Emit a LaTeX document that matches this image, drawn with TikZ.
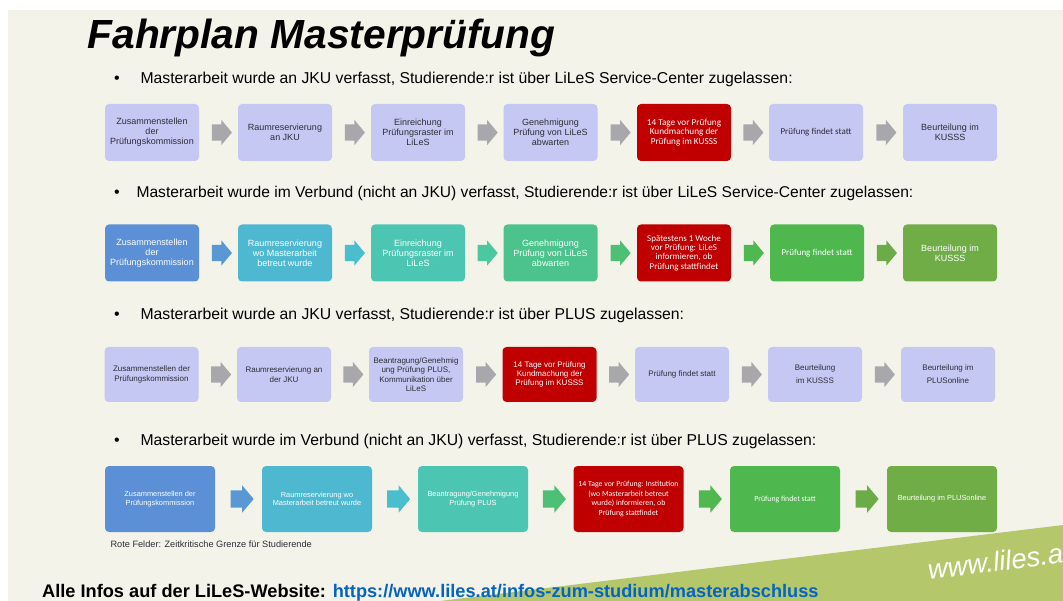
\documentclass[tikz,border=0pt]{standalone}
\usepackage{fontspec}
\setmainfont{Liberation Sans}
\newfontfamily\calibri{Carlito}
\usetikzlibrary{shapes.arrows}

\definecolor{paper}{RGB}{244,243,233}
\definecolor{wedge}{RGB}{181,199,107}
\definecolor{lav}{RGB}{197,200,242}
\definecolor{ink}{RGB}{45,45,55}
\definecolor{alert}{RGB}{192,0,0}
\definecolor{greyarrow}{RGB}{168,168,172}
\definecolor{cblue}{RGB}{91,143,214}
\definecolor{ccyan}{RGB}{77,184,208}
\definecolor{cteal}{RGB}{76,198,178}
\definecolor{cmint}{RGB}{76,194,140}
\definecolor{cgreen}{RGB}{78,184,78}
\definecolor{colive}{RGB}{112,173,71}
\definecolor{ablue}{RGB}{90,152,213}
\definecolor{acyan}{RGB}{75,190,206}
\definecolor{ateal}{RGB}{76,200,160}
\definecolor{amint}{RGB}{78,192,118}
\definecolor{agreen}{RGB}{80,184,80}
\definecolor{aolive}{RGB}{108,172,72}
\definecolor{link}{RGB}{5,99,193}

\begin{document}
\begin{tikzpicture}[x=1pt,y=-1pt,
  box/.style={rounded corners=4pt, align=center, inner sep=0pt,
    minimum width=94pt, minimum height=57pt},
  lavbox/.style={box, fill=lav, text=ink, font=\fontsize{9}{10}\selectfont},
  lavcal/.style={box, fill=lav, text=ink, font=\calibri\fontsize{9}{10}\selectfont},
  colbox/.style={box, fill=#1, text=white, font=\fontsize{9}{10}\selectfont},
  colcal/.style={box, fill=#1, text=white, font=\calibri\fontsize{9}{9.4}\selectfont},
  redbox/.style={box, fill=alert, text=white, font=\calibri\fontsize{9.2}{9.6}\selectfont},
  midbox/.style={lavbox, font=\fontsize{8}{9.3}\selectfont, minimum height=55pt},
  bigbox/.style={box, fill=#1, text=white, minimum width=110pt, minimum height=66pt,
    font=\fontsize{7.4}{8.6}\selectfont},
  bigcal/.style={bigbox=#1, font=\calibri\fontsize{7.8}{9.6}\selectfont},
  flow/.style={single arrow, draw=none, fill=#1, inner xsep=0pt, inner ysep=8pt,
    minimum height=20pt, minimum width=1pt,
    single arrow head extend=4.5pt, single arrow tip angle=100},
  bigflow/.style={flow=#1, minimum height=23pt, inner ysep=8.5pt,
    single arrow head extend=5pt},
  bullet/.style={anchor=base, font=\fontsize{16}{18}\selectfont},
  lead/.style={anchor=base west, font=\fontsize{15.75}{18}\selectfont},
]
\useasboundingbox (0,0) rectangle (1063,601);
\clip (0,0) rectangle (1063,601);

% slide background and green corner wedge
\fill[white] (0,0) rectangle (1063,601);
\fill[paper] (8,10) rectangle (1063,601);
\fill[wedge] (440,601) -- (1063,525) -- (1063,601) -- cycle;

% title
\node[anchor=base west, font=\bfseries\itshape\fontsize{40.7}{44}\selectfont]
  (title) at (84,49) {Fahrplan Masterprüfung};

% ---- case 1 ----
\node[bullet] (d1) at (117,84) {•};
\node[lead] (t1) at (137,84) {Masterarbeit wurde an JKU verfasst, Studierende:r ist über LiLeS Service-Center zugelassen:};
\node[lavbox] (a1) at (152,132.5) {Zusammenstellen\\der\\Prüfungskommission};
\node[lavbox] (a2) at (285,132.5) {Raumreservierung\\an JKU};
\node[lavbox] (a3) at (418,132.5) {Einreichung\\Prüfungsraster im\\LiLeS};
\node[lavbox] (a4) at (550.5,132.5) {Genehmigung\\Prüfung von LiLeS\\abwarten};
\node[redbox] (a5) at (684,132.5) {14 Tage vor Prüfung\\Kundmachung der\\Prüfung im KUSSS};
\node[lavcal] (a6) at (816,132.5) {Prüfung findet statt};
\node[lavbox] (a7) at (950,132.5) {Beurteilung im\\KUSSS};
\foreach \i/\j in {1/2,2/3,3/4,4/5,5/6,6/7}
  \path (a\i.east) -- (a\j.west) node[midway, flow=greyarrow] (fa\i) {};

% ---- case 2 ----
\node[bullet] (d2) at (117,198) {•};
\node[lead, font=\fontsize{15.6}{18}\selectfont] (t2) at (133,198) {Masterarbeit wurde im Verbund (nicht an JKU) verfasst, Studierende:r ist über LiLeS Service-Center zugelassen:};
\node[colbox=cblue] (b1) at (152,253) {Zusammenstellen\\der\\Prüfungskommission};
\node[colbox=ccyan] (b2) at (285,253) {Raumreservierung\\wo Masterarbeit\\betreut wurde};
\node[colbox=cteal] (b3) at (418,253) {Einreichung\\Prüfungsraster im\\LiLeS};
\node[colbox=cmint] (b4) at (550.5,253) {Genehmigung\\Prüfung von LiLeS\\abwarten};
\node[redbox, font=\calibri\fontsize{9}{9.3}\selectfont] (b5) at (684,253)
  {Spätestens 1 Woche\\vor Prüfung: LiLeS\\informieren, ob\\Prüfung stattfindet};
\node[colcal=cgreen] (b6) at (817,253) {Prüfung findet statt};
\node[colbox=colive] (b7) at (950,253) {Beurteilung im\\KUSSS};
\path (b1.east) -- (b2.west) node[midway, flow=ablue] (fb1) {};
\path (b2.east) -- (b3.west) node[midway, flow=acyan] (fb2) {};
\path (b3.east) -- (b4.west) node[midway, flow=ateal] (fb3) {};
\path (b4.east) -- (b5.west) node[midway, flow=amint] (fb4) {};
\path (b5.east) -- (b6.west) node[midway, flow=agreen] (fb5) {};
\path (b6.east) -- (b7.west) node[midway, flow=aolive] (fb6) {};

% ---- case 3 ----
\node[bullet] (d3) at (117,320) {•};
\node[lead] (t3) at (137,320) {Masterarbeit wurde an JKU verfasst, Studierende:r ist über PLUS zugelassen:};
\node[midbox] (c1) at (151.5,374.5) {Zusammenstellen der\\Prüfungskommission};
\node[midbox] (c2) at (284,374.5) {Raumreservierung an\\der JKU};
\node[midbox] (c3) at (416,374.5) {Beantragung/Genehmig\\ung Prüfung PLUS,\\Kommunikation über\\LiLeS};
\node[redbox, minimum height=55pt, font=\fontsize{8}{9.3}\selectfont] (c4) at (549.5,374.5)
  {14 Tage vor Prüfung\\Kundmachung der\\Prüfung im KUSSS};
\node[midbox] (c5) at (682,374.5) {Prüfung findet statt};
\node[midbox] (c6) at (815,374.5) {Beurteilung\\[3.5pt]im KUSSS};
\node[midbox] (c7) at (948,374.5) {Beurteilung im\\[3.5pt]PLUSonline};
\foreach \i/\j in {1/2,2/3,3/4,4/5,5/6,6/7}
  \path (c\i.east) -- (c\j.west) node[midway, flow=greyarrow] (fc\i) {};

% ---- case 4 ----
\node[bullet] (d4) at (117,446) {•};
\node[lead] (t4) at (137,446) {Masterarbeit wurde im Verbund (nicht an JKU) verfasst, Studierende:r ist über PLUS zugelassen:};
\node[bigbox=cblue] (e1) at (160,499) {Zusammenstellen der\\Prüfungskommission};
\node[bigbox=ccyan] (e2) at (317,499) {Raumreservierung wo\\Masterarbeit betreut wurde};
\node[bigbox=cteal] (e3) at (473,499) {Beantragung/Genehmigung\\Prüfung PLUS};
\node[bigcal=alert] (e4) at (628.5,499)
  {14 Tage vor Prüfung: Institution\\(wo Masterarbeit betreut\\wurde) informieren, ob\\Prüfung stattfindet};
\node[bigcal=cgreen] (e5) at (785,499) {Prüfung findet statt};
\node[bigbox=colive] (e6) at (942,499) {Beurteilung im PLUSonline};
\path (e1.east) -- (e2.west) node[midway, bigflow=ablue] (fe1) {};
\path (e2.east) -- (e3.west) node[midway, bigflow=acyan] (fe2) {};
\path (e3.east) -- (e4.west) node[midway, bigflow=amint] (fe3) {};
\path (e4.east) -- (e5.west) node[midway, bigflow=agreen] (fe4) {};
\path (e5.east) -- (e6.west) node[midway, bigflow=aolive] (fe5) {};

\node[anchor=base west, text=ink, font=\fontsize{9.2}{10}\selectfont]
  (note) at (107,547) {Rote Felder: Zeitkritische Grenze für Studierende};

% footer
\node[anchor=base west, inner sep=0pt, font=\bfseries\fontsize{18.2}{20}\selectfont]
  (info) at (42,597) {Alle Infos auf der LiLeS-Website: \textcolor{link}{\underline{https://www.liles.at/infos-zum-studium/masterabschluss}}};
\node[anchor=base west, inner sep=0pt, rotate=7.3, text=white,
  font=\itshape\fontsize{27.5}{28}\selectfont] (web) at (929,580) {www.liles.at};
\end{tikzpicture}
\end{document}
